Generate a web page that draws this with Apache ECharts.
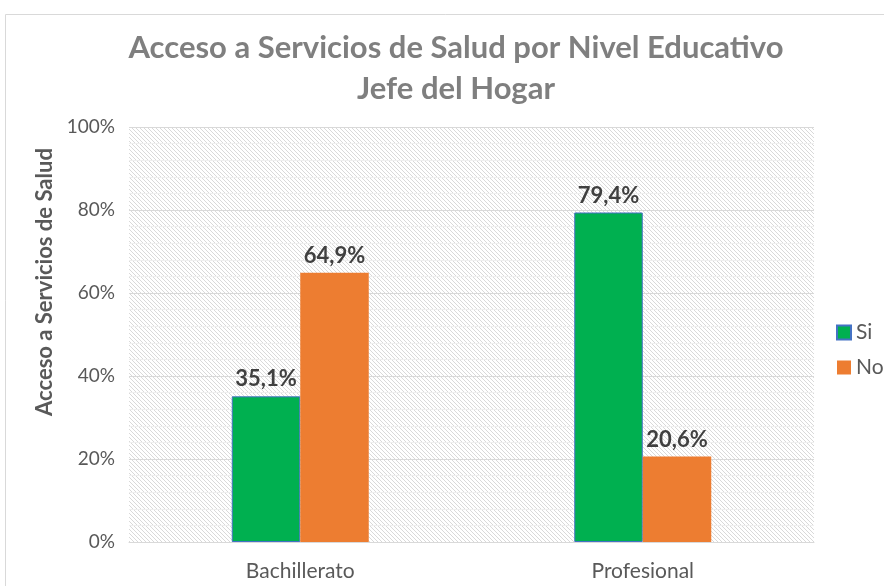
<!DOCTYPE html>
<html>
<head>
<meta charset="utf-8">
<script src="https://cdn.jsdelivr.net/npm/echarts@6/dist/echarts.min.js"></script>
<style>
  html, body { margin: 0; padding: 0; background: #fff; }
  #main { width: 884px; height: 586px; }
</style>
</head>
<body>
<div id="main"></div>
<script>
// data
var categories = ['Bachillerato', 'Profesional'];
var siValues = [35.1, 79.4];
var noValues = [64.9, 20.6];
var yTicks = [0, 20, 40, 60, 80, 100];

var dom = document.getElementById('main');
var myChart = echarts.init(dom);

// hatched background for the plot area
var hatch = document.createElement('canvas');
hatch.width = 4;
hatch.height = 4;
var ctx = hatch.getContext('2d');
ctx.fillStyle = '#ffffff';
ctx.fillRect(0, 0, 4, 4);
ctx.fillStyle = '#d9d9d9';
for (var i = 0; i < 4; i++) {
  ctx.fillRect(i, i, 1, 1);
}

var fontFam = 'Lato, "Open Sans", sans-serif';

function pct(p) {
  return p.value.toFixed(1).replace('.', ',') + '%';
}

var option = {
  textStyle: { fontFamily: fontFam },
  title: {
    text: 'Acceso a Servicios de Salud por Nivel Educativo\nJefe del Hogar',
    left: 451,
    top: 22,
    textAlign: 'center',
    textStyle: {
      fontSize: 31,
      fontWeight: 'bold',
      color: '#7f7f7f',
      lineHeight: 41,
      fontFamily: fontFam
    }
  },
  legend: {
    orient: 'vertical',
    left: 836,
    top: 322,
    padding: 0,
    itemWidth: 14,
    itemHeight: 14,
    itemGap: 14,
    icon: 'rect',
    textStyle: { fontSize: 21, color: '#595959' },
    data: ['Si', 'No']
  },
  grid: {
    left: 129,
    right: 70,
    top: 127,
    bottom: 44,
    show: true,
    borderWidth: 0,
    backgroundColor: { image: hatch, repeat: 'repeat' }
  },
  graphic: [
    {
      type: 'rect',
      shape: { x: 5.5, y: 14.5, width: 900, height: 600 },
      style: { fill: null, stroke: '#d9d9d9', lineWidth: 1 },
      silent: true,
      z: -1
    },
    {
      type: 'text',
      x: 45,
      y: 282,
      rotation: Math.PI / 2,
      style: {
        text: 'Acceso a Servicios de Salud',
        fontSize: 22,
        fontWeight: 'bold',
        fill: '#595959',
        fontFamily: fontFam,
        align: 'center',
        verticalAlign: 'middle'
      }
    }
  ],
  xAxis: {
    type: 'category',
    data: categories,
    axisTick: { show: false },
    axisLine: { lineStyle: { color: '#d9d9d9' } },
    axisLabel: { fontSize: 21, color: '#595959', margin: 19 }
  },
  yAxis: {
    type: 'value',
    min: yTicks[0],
    max: yTicks[yTicks.length - 1],
    interval: 20,
    axisLine: { show: false },
    axisTick: { show: false },
    axisLabel: { fontSize: 19, color: '#595959', margin: 14, formatter: '{value}%' },
    splitLine: { lineStyle: { color: '#d9d9d9' } },
    minorTick: { show: false, splitNumber: 5 },
    minorSplitLine: { show: true, lineStyle: { color: '#efefef' } }
  },
  series: [
    {
      name: 'Si',
      type: 'bar',
      data: siValues,
      barGap: '0%',
      barCategoryGap: '60%',
      itemStyle: { color: '#00B050', borderColor: '#4472C4', borderWidth: 1 },
      label: {
        show: true,
        position: 'top',
        distance: 6,
        fontSize: 22,
        fontWeight: 'bold',
        color: '#404040',
        formatter: pct
      }
    },
    {
      name: 'No',
      type: 'bar',
      data: noValues,
      itemStyle: { color: '#ED7D31' },
      label: {
        show: true,
        position: 'top',
        distance: 6,
        fontSize: 22,
        fontWeight: 'bold',
        color: '#404040',
        formatter: pct
      }
    }
  ]
};

myChart.setOption(option);
</script>
</body>
</html>
